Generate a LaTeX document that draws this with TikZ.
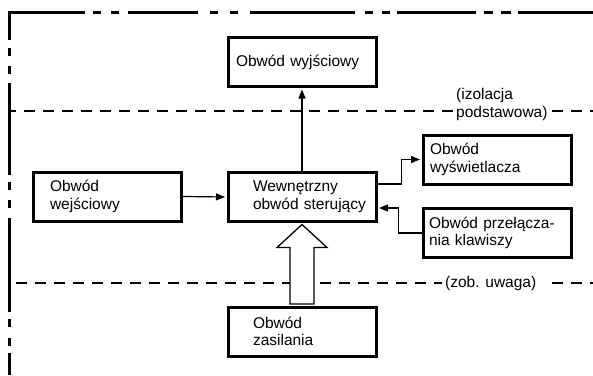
\documentclass[tikz,border=0pt]{standalone}
\usepackage{fontspec}
\setmainfont{Liberation Sans}
\usetikzlibrary{arrows.meta,calc}
\begin{document}
\begin{tikzpicture}[x=1pt,y=-1pt,
  box/.style={draw,line width=3pt,minimum width=148pt,minimum height=49pt,
    inner xsep=0pt,inner ysep=0pt,align=left,font=\fontsize{15.5}{17.5}\selectfont},
  lab/.style={inner sep=0pt,align=left,font=\fontsize{15.5}{17.5}\selectfont},
  conn/.style={line width=1.2pt,-{Triangle[length=9pt,width=7pt]},shorten >=1.5pt},
  dline/.style={line width=1.2pt,dash pattern=on 11pt off 8pt},
  border/.style={line width=3.3pt,line cap=butt,line join=miter},
  hollow/.style={draw,fill=white,line width=1.3pt,line join=miter}]
\useasboundingbox (0,0) rectangle (593,375);

% boxes
\node[box,text width=132pt] (out)  at (302,62)    {\mbox{Obwód wyjściowy}};
\node[box,text width=114pt] (in)   at (107,196.5) {\mbox{Obwód}\\\mbox{wejściowy}};
\node[box,text width=98pt]  (ctr)  at (302,197)   {\mbox{Wewnętrzny}\\\mbox{obwód sterujący}};
\node[box,text width=134pt] (disp) at (497,159.5) {\mbox{Obwód}\\\mbox{wyświetlacza}};
\node[box,text width=136pt] (keys) at (497,233)   {\mbox{Obwód przełącza-}\\\mbox{nia klawiszy}};
\node[box,text width=98pt]  (pow)  at (302,331.5) {\mbox{Obwód}\\\mbox{zasilania}};

% labels
\node[lab,anchor=west] (iso) at (456,104.5) {(izolacja\\podstawowa)};
\node[lab,anchor=base west] (note) at (445,287.5) {(zob. uwaga)};

% dashed lines
\draw[dline,dash phase=4pt] (9.3,111) -- (453,111);
\draw[dline] (552,111) -- (593,111);
\draw[dline] (16,283) -- (442,283);
\draw[dline] (552,283) -- (593,283);

% outer border (dash-dot)
\draw[border] (9.3,40) -- (9.3,12.7) -- (85,12.7);
\draw[border] (93,12.7) -- (101,12.7) (111,12.7) -- (119,12.7)
  (128,12.7) -- (198,12.7) (210,12.7) -- (218,12.7) (230,12.7) -- (238,12.7)
  (250,12.7) -- (355,12.7) (365,12.7) -- (373,12.7) (382,12.7) -- (390,12.7)
  (397,12.7) -- (476,12.7) (484,12.7) -- (493,12.7) (501,12.7) -- (511,12.7)
  (518,12.7) -- (593,12.7);
\draw[border] (9.3,48) -- (9.3,56) (9.3,66) -- (9.3,74) (9.3,83) -- (9.3,175)
  (9.3,182) -- (9.3,190) (9.3,200) -- (9.3,208) (9.3,218) -- (9.3,312)
  (9.3,319) -- (9.3,327) (9.3,338) -- (9.3,346) (9.3,353) -- (9.3,375);

% connectors
\draw[conn] (in.east) -- (ctr.west);
\draw[conn] (ctr.north) -- (out.south);
\draw[conn] ([yshift=13pt]ctr.east) -- ++(24,0) |- (disp.west);
\draw[conn] (keys.west) -- ++(-23,0) |- ([yshift=-11pt]ctr.east);

% hollow power arrow
\coordinate (tip) at ([yshift=-1.5pt]ctr.south);
\coordinate (base) at ([yshift=1.5pt]pow.north);
\draw[hollow] (tip) -- ($(tip)+(25,23)$) -- ($(tip)+(12,23)$) -- ($(base)+(12,0)$)
  -- ($(base)+(-12,0)$) -- ($(tip)+(-12,23)$) -- ($(tip)+(-25,23)$) -- cycle;
\end{tikzpicture}
\end{document}
